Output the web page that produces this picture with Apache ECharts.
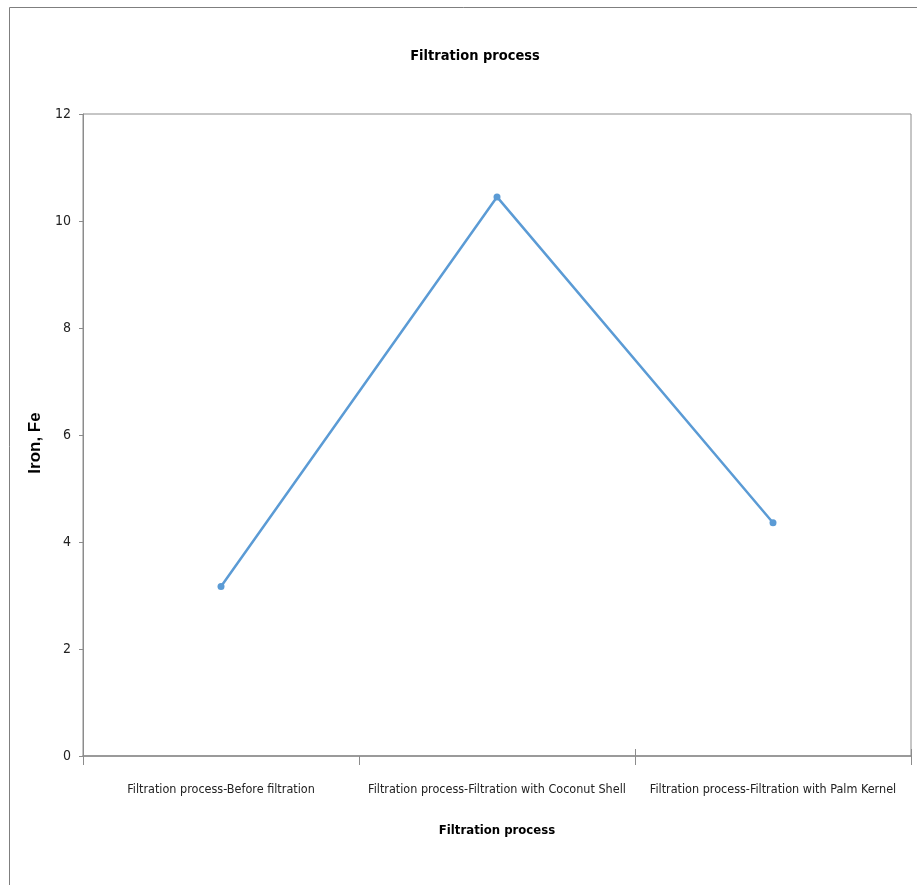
<!DOCTYPE html>
<html>
<head>
<meta charset="utf-8">
<script src="https://cdn.jsdelivr.net/npm/echarts@6/dist/echarts.min.js"></script>
<style>
html,body{margin:0;padding:0;background:#fff;}
#chart{width:917px;height:885px;}
</style>
</head>
<body>
<div id="chart"></div>
<script>
const categories = [
  "Filtration process-Before filtration",
  "Filtration process-Filtration with Coconut Shell",
  "Filtration process-Filtration with Palm Kernel"
];
const ironValues = [3.17, 10.45, 4.36];
const yTicks = { min: 0, max: 12, interval: 2 };

const narrow = '"Liberation Sans Narrow", "DejaVu Sans Condensed", "Roboto Condensed", sans-serif';
const axisGray = '#8c8c8c';

const chart = echarts.init(document.getElementById('chart'), null, { renderer: 'canvas' });
chart.setOption({
  animation: false,
  backgroundColor: '#ffffff',
  title: {
    text: 'Filtration process',
    left: 470,
    textAlign: 'center',
    top: 44,
    textStyle: { fontFamily: narrow, fontSize: 14.5, fontWeight: 'bold', color: '#000' }
  },
  graphic: [{
    type: 'rect',
    shape: { x: 9.5, y: 7.5, width: 920, height: 900 },
    style: { fill: 'none', stroke: '#7f7f7f', lineWidth: 1 },
    silent: true, z: -1
  }],
  grid: { left: 83, right: 6, top: 114, bottom: 129, show: true, borderColor: axisGray, borderWidth: 1 },
  xAxis: [{
    type: 'category',
    data: categories,
    boundaryGap: true,
    name: 'Filtration process',
    nameLocation: 'middle',
    nameGap: 68,
    nameTextStyle: { fontFamily: narrow, fontSize: 13, fontWeight: 'bold', color: '#000' },
    axisLine: { show: true, lineStyle: { color: axisGray, width: 1.5 } },
    axisTick: { show: true, alignWithLabel: false, length: 9, lineStyle: { color: axisGray } },
    axisLabel: { fontFamily: narrow, fontSize: 12.5, color: '#222', margin: 27, interval: 0 },
    splitLine: { show: false }
  }, {
    type: 'category',
    data: categories,
    position: 'bottom',
    boundaryGap: true,
    axisLine: { show: false },
    axisTick: { show: true, inside: true, length: 7, lineStyle: { color: axisGray } },
    axisLabel: { show: false },
    splitLine: { show: false }
  }],
  yAxis: {
    type: 'value',
    min: yTicks.min,
    max: yTicks.max,
    interval: yTicks.interval,
    name: 'Iron, Fe',
    nameLocation: 'middle',
    nameGap: 32,
    nameRotate: 90,
    nameTextStyle: { fontFamily: '"Liberation Sans", Arial, sans-serif', fontSize: 17, fontWeight: 'bold', color: '#000', padding: [0, 16, 0, 0] },
    axisLine: { show: true, lineStyle: { color: axisGray } },
    axisTick: { show: true, length: 4, lineStyle: { color: axisGray } },
    axisLabel: { fontFamily: narrow, fontSize: 14, color: '#222', margin: 12 },
    splitLine: { show: false }
  },
  series: [{
    type: 'line',
    data: ironValues,
    xAxisIndex: 0,
    symbol: 'circle',
    symbolSize: 7,
    lineStyle: { color: '#5b9bd5', width: 2.5 },
    itemStyle: { color: '#5b9bd5' }
  }]
});
</script>
</body>
</html>
